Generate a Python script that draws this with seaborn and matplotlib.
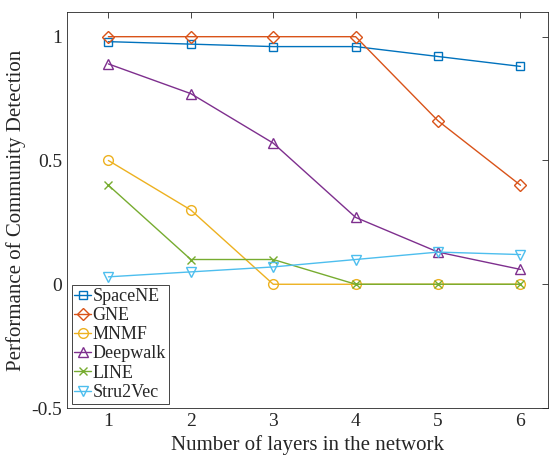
import numpy as np
import pandas as pd
import seaborn as sns
import matplotlib
matplotlib.use("Agg")
import matplotlib.pyplot as plt

# values
layers = [1, 2, 3, 4, 5, 6]
spacene = [0.98, 0.97, 0.96, 0.96, 0.92, 0.88]
gne = [1.00, 1.00, 1.00, 1.00, 0.66, 0.40]
mnmf = [0.50, 0.30, 0.00, 0.00, 0.00, 0.00]
deepwalk = [0.89, 0.77, 0.57, 0.27, 0.13, 0.06]
line = [0.40, 0.10, 0.10, 0.00, 0.00, 0.00]
stru2vec = [0.03, 0.05, 0.07, 0.10, 0.13, 0.12]

methods = ["SpaceNE", "GNE", "MNMF", "Deepwalk", "LINE", "Stru2Vec"]
series = [spacene, gne, mnmf, deepwalk, line, stru2vec]
colors = ["#0072BD", "#D95319", "#EDB120", "#7E2F8E", "#77AC30", "#4DBEEE"]
markers = ["s", "D", "o", "^", "x", "v"]
msizes = [6, 6, 7, 7, 6, 7]

df = pd.DataFrame({
    "layers": layers * len(methods),
    "score": np.concatenate(series),
    "method": np.repeat(methods, len(layers)),
})

sns.set_style("white")
plt.rcParams['font.family'] = ['Liberation Serif', 'DejaVu Serif']
plt.rcParams['mathtext.fontset'] = 'stix'

fig, ax = plt.subplots(figsize=(5.6, 4.59), dpi=100)

for m, c, mk, ms in zip(methods, colors, markers, msizes):
    d = df[df.method == m]
    sns.lineplot(data=d, x="layers", y="score", ax=ax, color=c, marker=mk,
                 markersize=ms, markerfacecolor="none", markeredgecolor=c,
                 markeredgewidth=1.0, linewidth=1.0, label=m)

ax.set_xlim(0.5, 6.33)
ax.set_ylim(-0.5, 1.1)
ax.set_xticks(layers)
ax.set_yticks([-0.5, 0, 0.5, 1])
ax.set_yticklabels(["-0.5", "0", "0.5", "1"])
ax.set_xlabel("Number of layers in the network", fontsize=15)
ax.set_ylabel("Performance of Community Detection", fontsize=15)
ax.tick_params(direction="in", labelsize=14, top=True, right=True, length=4,
               width=0.6, colors="#262626")
for s in ax.spines.values():
    s.set_linewidth(0.6)
    s.set_color("#262626")

leg = ax.legend(loc="lower left", fontsize=13, handlelength=0.9,
                handletextpad=0.1, borderpad=0.15, labelspacing=0.12,
                borderaxespad=0.25, fancybox=False, framealpha=1)
leg.get_frame().set_edgecolor("#262626")
leg.get_frame().set_linewidth(0.6)

fig.subplots_adjust(left=0.12, right=0.978, top=0.974, bottom=0.111)
fig.savefig("out.png", dpi=100)
